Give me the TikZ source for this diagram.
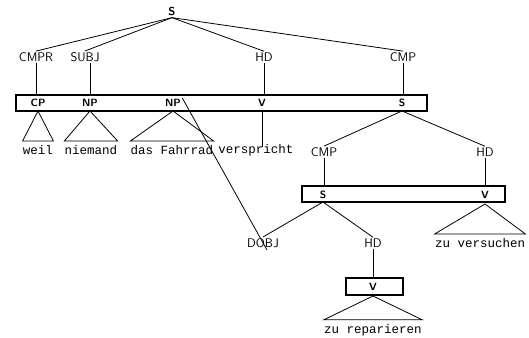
\documentclass[tikz,border=0pt]{standalone}
\usepackage{fontspec}
\setmonofont{Liberation Mono}
\begin{document}
\begin{tikzpicture}[x=1pt, y=-1pt, line width=0.8pt]
		\tikzstyle{every node}=[inner sep=1pt, font=\sffamily\fontsize{12.5}{12.5}\selectfont]
		\tikzstyle{cat}=[font=\sffamily\bfseries\fontsize{10.5}{10.5}\selectfont]
		\tikzstyle{box}=[draw, line width=1.6pt]
		\useasboundingbox (0,0) rectangle (529,337);

			% top clause
			\node[cat, font=\sffamily\bfseries\fontsize{11.5}{11.5}\selectfont] (S) at (172,12) {S};
			\node (cmpr) at (36,57) {CMPR};
			\node (subj) at (85,57) {SUBJ};
			\node (hd) at (264,57) {HD};
			\node (cmp) at (403,57) {CMP};

			\coordinate (b1nw) at (16,95);
			\coordinate (b1se) at (427,111);
			\draw[box] (b1nw) rectangle (b1se);
			\node[cat] (cp) at (38,103) {CP};
			\node[cat] (np1) at (90,103) {NP};
			\node[cat] (np2) at (173,103) {NP};
			\node[cat] (v1) at (262,103) {V};
			\node[cat] (s1) at (402,103) {S};

			% lower clauses
			\node (cmp2) at (324,152) {CMP};
			\node (hd2) at (485,152) {HD};
			\coordinate (b2nw) at (302,186);
			\coordinate (b2se) at (505,202);
			\draw[box] (b2nw) rectangle (b2se);
			\node[cat] (s2) at (323,195) {S};
			\node[cat] (v2) at (485,195) {V};

			\node (dobj) at (263,243) {DOBJ};
			\node (hd3) at (373,243) {HD};
			\coordinate (b3nw) at (346,278);
			\coordinate (b3se) at (403,295);
			\draw[box] (b3nw) rectangle (b3se);
			\node[cat] (v3) at (373,287) {V};

			\begin{scope}[nodes = {font=\ttfamily\fontsize{12.5}{12.5}\selectfont, inner sep=0pt}]
				\node (w1) at (38,150) {weil};
				\node (w2) at (91,150) {niemand};
				\node (w3) at (172,150) {das Fahrrad};
				\node (w4) at (256,150) {verspricht};
				\node (w5) at (480,243) {zu versuchen};
				\node (w6) at (373,330) {zu reparieren};
			\end{scope}

			% edges
			\foreach \n in {cmpr, subj, hd, cmp}
				\draw (S.south) -- (\n.north);
			\draw (cmpr.south) -- (cmpr.south |- b1nw);
			\draw ([xshift=5pt]subj.south) -- ([xshift=5pt]subj.south |- b1nw);
			\draw (hd.south) -- (hd.south |- b1nw);
			\draw (cmp.south) -- (cmp.south |- b1nw);

			\draw (s1 |- b1se) -- (cmp2.north);
			\draw (s1 |- b1se) -- (hd2.north);
			\draw (cmp2.south) -- (cmp2.south |- b2nw);
			\draw (hd2.south) -- (hd2.south |- b2nw);

			\draw (s2 |- b2se) -- (dobj.north);
			\draw (s2 |- b2se) -- (hd3.north);
			\draw (hd3.south) -- (hd3.south |- b3nw);

			\draw (np2.north east) -- ([xshift=4pt,yshift=-1pt]dobj.south);
			\draw (v1 |- b1se) -- ([xshift=6pt,yshift=-3pt]w4.north);

			% triangles
			\draw (cp |- b1se) -- ([yshift=4pt]w1.north west) -- ([yshift=4pt]w1.north east) -- cycle;
			\draw (np1 |- b1se) -- ([yshift=4pt]w2.north west) -- ([yshift=4pt]w2.north east) -- cycle;
			\draw (np2 |- b1se) -- ([yshift=4pt]w3.north west) -- ([yshift=4pt]w3.north east) -- cycle;
			\draw ([yshift=-2pt]v2 |- b2se) -- ([yshift=4pt]w5.north west) -- ([yshift=4pt]w5.north east) -- cycle;
			\draw ([yshift=-1pt]v3 |- b3se) -- ([yshift=4pt]w6.north west) -- ([yshift=4pt]w6.north east) -- cycle;

		\end{tikzpicture}
\end{document}
